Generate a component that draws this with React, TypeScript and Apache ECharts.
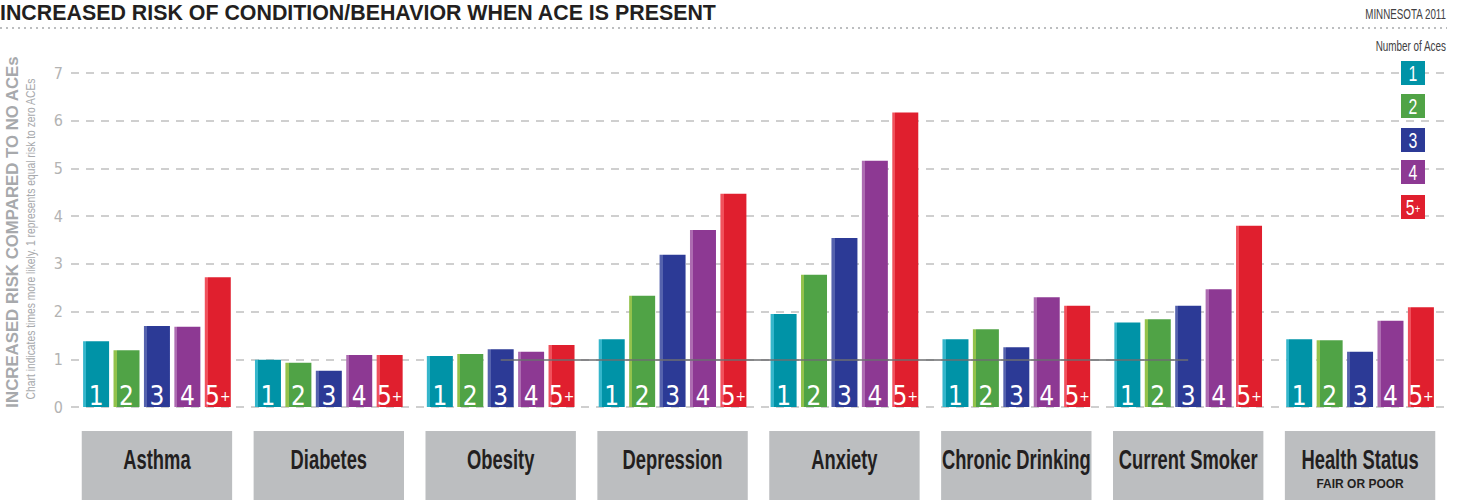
import React, { useEffect, useRef } from "react";
import * as echarts from "echarts";

const categories = [
  "Asthma",
  "Diabetes",
  "Obesity",
  "Depression",
  "Anxiety",
  "Chronic Drinking",
  "Current Smoker",
  "Health Status",
];
const categorySubtitles = ["", "", "", "", "", "", "", "FAIR OR POOR"];
const aceLabels = ["1", "2", "3", "4", "5+"];
const ace1 = [1.38, 0.99, 1.07, 1.42, 1.95, 1.42, 1.77, 1.42];
const ace2 = [1.19, 0.93, 1.11, 2.33, 2.77, 1.63, 1.84, 1.4];
const ace3 = [1.7, 0.76, 1.21, 3.19, 3.54, 1.25, 2.12, 1.16];
const ace4 = [1.68, 1.09, 1.16, 3.71, 5.16, 2.3, 2.47, 1.81];
const ace5 = [2.72, 1.09, 1.3, 4.47, 6.17, 2.12, 3.8, 2.09];
const seriesValues = [ace1, ace2, ace3, ace4, ace5];
const yTicks = [0, 1, 2, 3, 4, 5, 6, 7];

const baseColors = ["#0093a7", "#50a346", "#2c3a96", "#8d3993", "#e01f2e"];
const edgeColors = ["#35b6cb", "#93c24c", "#5562ad", "#ad6cb1", "#f0515c"];

const COND = '"DejaVu Sans Condensed", "Liberation Sans", sans-serif';
const ARIAL = '"Liberation Sans", Arial, sans-serif';

function labelText(name: string) {
  if (name === "5+") return "{n|5}{p|+}";
  return "{n|" + name + "}";
}

export default function App() {
  const ref = useRef<HTMLDivElement>(null);
  useEffect(() => {
    if (!ref.current) return;
    const chart = echarts.init(ref.current, null, { renderer: "svg" });

    const barSeries = seriesValues.map((vals, i) => ({
      name: aceLabels[i],
      type: "bar",
      data: vals,
      barWidth: 26,
      barGap: "17%",
      barCategoryGap: "14%",
      z: 3,
      itemStyle: {
        color: new echarts.graphic.LinearGradient(0, 0, 1, 0, [
          { offset: 0, color: edgeColors[i] },
          { offset: 0.12, color: edgeColors[i] },
          { offset: 0.12, color: baseColors[i] },
          { offset: 1, color: baseColors[i] },
        ]),
      },
      label: {
        show: true,
        position: "insideBottom",
        distance: 0,
        formatter: (p: any) => labelText(p.seriesName),
        rich: {
          n: { fontSize: 26, color: "#ffffff", fontFamily: COND, lineHeight: 22 },
          p: { fontSize: 14, color: "#ffffff", fontFamily: COND, lineHeight: 22 },
        },
      },
    }));

    const categoryBoxes = {
      name: "categoryBoxes",
      type: "custom",
      silent: true,
      clip: false,
      z: 5,
      data: categories.map((_, i) => [i]),
      encode: { x: 0 },
      renderItem: (params: any, api: any) => {
        const idx = api.value(0);
        const pt = api.coord([idx, 0]);
        const band = api.size([1, 0])[0];
        const w = band * 0.875;
        const top = pt[1] + 24;
        const children: any[] = [
          {
            type: "rect",
            shape: { x: pt[0] - w / 2, y: top, width: w, height: 69 },
            style: { fill: "#bcbec0" },
          },
          {
            type: "text",
            x: pt[0],
            y: top + 29,
            scaleX: 0.68,
            style: {
              text: categories[idx],
              fontSize: 27,
              fontWeight: "bold",
              fontFamily: ARIAL,
              fill: "#231f20",
              align: "center",
              verticalAlign: "middle",
            },
          },
        ];
        if (categorySubtitles[idx]) {
          children.push({
            type: "text",
            x: pt[0],
            y: top + 53,
            style: {
              text: categorySubtitles[idx],
              fontSize: 12,
              fontWeight: "bold",
              fontFamily: ARIAL,
              fill: "#231f20",
              align: "center",
              verticalAlign: "middle",
            },
          });
        }
        return { type: "group", children };
      },
    };

    const legendGraphics: any[] = [];
    aceLabels.forEach((name, i) => {
      const top = [61, 94, 128, 160, 195][i];
      legendGraphics.push({
        type: "group",
        x: 1401,
        y: top,
        z: 100,
        children: [
          { type: "rect", z: 100, shape: { x: 0, y: 0, width: 24, height: 24 }, style: { fill: baseColors[i] } },
          {
            type: "text",
            z: 101,
            x: 12,
            y: 13,
            scaleX: 0.72,
            style: {
              text: labelText(name),
              align: "center",
              verticalAlign: "middle",
              rich: {
                n: { fontSize: 22, fill: "#fff", fontFamily: ARIAL },
                p: { fontSize: 13, fill: "#fff", fontFamily: ARIAL },
              },
            },
          },
        ],
      });
    });

    chart.setOption({
      animation: false,
      grid: { left: 71, right: 15, top: 73, bottom: 93, containLabel: false },
      xAxis: {
        type: "category",
        data: categories,
        axisLine: { show: false },
        axisTick: { show: false },
        axisLabel: { show: false },
      },
      yAxis: {
        type: "value",
        min: yTicks[0],
        max: yTicks[yTicks.length - 1],
        interval: 1,
        axisLine: { show: false },
        axisTick: { show: false },
        axisLabel: { color: "#b3b3b3", fontSize: 16, fontFamily: COND, margin: 8 },
        splitLine: {
          show: true,
          lineStyle: { color: "#cfcfcf", width: 2, type: [8, 7] },
        },
      },
      series: [
        ...barSeries,
        categoryBoxes,
        {
          name: "ref",
          type: "line",
          data: [],
          z: 1,
          silent: true,
          markLine: {
            silent: true,
            symbol: "none",
            label: { show: false },
            lineStyle: { color: "#6d6e71", width: 1.5, type: "solid" },
            data: [[{ xAxis: "Obesity", yAxis: 1 }, { xAxis: "Current Smoker", yAxis: 1 }]],
          },
        },
      ],
      graphic: [
        {
          type: "text",
          x: 0,
          y: 12,
          scaleX: 0.93,
          style: {
            text: "INCREASED RISK OF CONDITION/BEHAVIOR WHEN ACE IS PRESENT",
            fontSize: 23,
            fontWeight: "bold",
            fontFamily: ARIAL,
            fill: "#231f20",
            verticalAlign: "middle",
          },
        },
        {
          type: "text",
          x: 1446,
          y: 14,
          scaleX: 0.7,
          style: {
            text: "MINNESOTA 2011",
            fontSize: 14,
            fontFamily: ARIAL,
            fill: "#414042",
            align: "right",
            verticalAlign: "middle",
          },
        },
        {
          type: "line",
          shape: { x1: 0, y1: 28, x2: 1447, y2: 28 },
          style: { stroke: "#bcbec0", lineWidth: 2, lineDash: [2, 4] },
        },
        {
          type: "text",
          x: 1446,
          y: 46,
          scaleX: 0.66,
          style: {
            text: "Number of Aces",
            fontSize: 15,
            fontFamily: ARIAL,
            fill: "#414042",
            align: "right",
            verticalAlign: "middle",
          },
        },
        ...legendGraphics,
        {
          type: "text",
          x: 12,
          y: 232,
          rotation: Math.PI / 2,
          scaleX: 1.05,
          style: {
            text: "INCREASED RISK COMPARED TO NO ACEs",
            fontSize: 16,
            fontWeight: "bold",
            fontFamily: ARIAL,
            fill: "#a7a9ac",
            align: "center",
            verticalAlign: "middle",
          },
        },
        {
          type: "text",
          x: 31,
          y: 239,
          rotation: Math.PI / 2,
          scaleX: 0.86,
          style: {
            text: "Chart indicates times more likely. 1 represents equal risk to zero ACEs",
            fontSize: 12,
            fontFamily: ARIAL,
            fill: "#a7a9ac",
            align: "center",
            verticalAlign: "middle",
          },
        },
      ],
    });
    return () => chart.dispose();
  }, []);
  return (
    <div
      ref={ref}
      style={{ position: "fixed", left: 0, top: 0, width: 1461, height: 500, background: "#fff" }}
    />
  );
}
